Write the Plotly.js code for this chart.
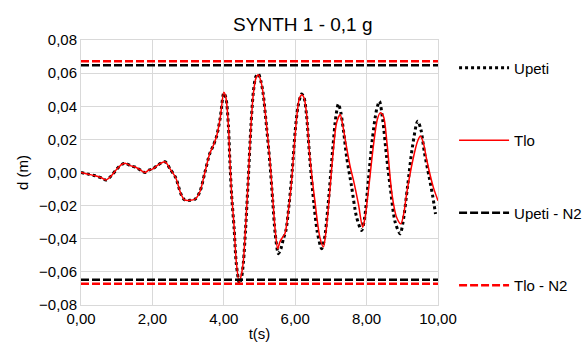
<!DOCTYPE html>
<html>
<head>
<meta charset="utf-8">
<script src="https://cdn.plot.ly/plotly-3.0.1.min.js"></script>
<style>html,body{margin:0;padding:0;background:#fff;}#chart{width:588px;height:349px;}</style>
</head>
<body>
<div id="chart"></div>
<script>
// Upeti (dotted black)
var upetiT = [0.00,0.20,0.40,0.60,0.70,0.85,1.00,1.15,1.25,1.40,1.55,1.70,1.80,1.90,2.00,2.15,2.35,2.50,2.65,2.80,2.90,3.05,3.20,3.33,3.47,3.60,3.70,3.80,3.90,4.00,4.06,4.13,4.17,4.22,4.29,4.35,4.44,4.50,4.55,4.61,4.69,4.76,4.83,4.90,4.97,5.04,5.10,5.20,5.29,5.37,5.44,5.53,5.60,5.67,5.74,5.83,5.92,6.00,6.08,6.18,6.25,6.32,6.41,6.52,6.62,6.74,6.82,6.92,7.05,7.14,7.21,7.28,7.36,7.44,7.58,7.72,7.86,7.94,8.05,8.16,8.28,8.36,8.45,8.56,8.66,8.80,8.94,9.02,9.15,9.28,9.43,9.52,9.62,9.75,9.85,9.93];
var upetiD = [0.000,-0.001,-0.002,-0.0035,-0.0045,-0.002,0.002,0.005,0.0055,0.004,0.003,0.001,0.000,0.0015,0.002,0.0045,0.0065,0.002,-0.003,-0.013,-0.0165,-0.0168,-0.016,-0.0116,0.000,0.011,0.016,0.022,0.033,0.048,0.045,0.028,0.007,-0.014,-0.034,-0.055,-0.067,-0.063,-0.054,-0.034,-0.002,0.028,0.049,0.058,0.0595,0.055,0.048,0.027,0.006,-0.017,-0.037,-0.049,-0.046,-0.040,-0.035,-0.019,0.002,0.025,0.040,0.0474,0.045,0.034,0.008,-0.018,-0.036,-0.046,-0.040,-0.020,0.014,0.034,0.0414,0.036,0.024,0.0095,-0.0086,-0.027,-0.035,-0.028,-0.0045,0.020,0.038,0.043,0.032,0.0095,-0.0086,-0.030,-0.037,-0.030,-0.008,0.015,0.031,0.026,0.012,-0.0025,-0.014,-0.025];
// Tlo (solid red)
var tloT = [0.00,0.20,0.40,0.60,0.70,0.85,1.00,1.15,1.25,1.40,1.55,1.70,1.80,1.90,2.00,2.15,2.35,2.50,2.65,2.80,2.90,3.05,3.20,3.33,3.47,3.60,3.70,3.80,3.90,4.00,4.06,4.13,4.17,4.22,4.29,4.35,4.43,4.49,4.55,4.61,4.69,4.76,4.83,4.90,4.97,5.04,5.10,5.20,5.29,5.37,5.44,5.51,5.57,5.62,5.71,5.81,5.90,5.97,6.05,6.12,6.19,6.25,6.32,6.41,6.55,6.69,6.79,6.86,6.93,7.07,7.16,7.26,7.32,7.40,7.54,7.63,7.77,7.89,7.95,8.05,8.19,8.30,8.38,8.47,8.57,8.71,8.84,8.96,9.04,9.12,9.30,9.43,9.51,9.60,9.68,9.87,10.00];
var tloD = [0.000,-0.001,-0.002,-0.0035,-0.0045,-0.002,0.002,0.005,0.0055,0.004,0.003,0.001,0.000,0.0015,0.002,0.0045,0.0065,0.002,-0.003,-0.013,-0.0165,-0.0168,-0.016,-0.0116,0.000,0.011,0.016,0.022,0.033,0.0484,0.045,0.028,0.008,-0.013,-0.033,-0.054,-0.066,-0.062,-0.053,-0.033,-0.002,0.028,0.048,0.057,0.059,0.055,0.048,0.028,0.008,-0.015,-0.035,-0.046,-0.042,-0.040,-0.037,-0.023,-0.005,0.015,0.035,0.045,0.047,0.045,0.035,0.0095,-0.017,-0.039,-0.045,-0.036,-0.021,0.014,0.030,0.035,0.030,0.020,0.0035,-0.0045,-0.019,-0.033,-0.028,-0.011,0.016,0.032,0.036,0.034,0.018,-0.013,-0.027,-0.031,-0.025,-0.013,0.008,0.019,0.022,0.017,0.008,-0.009,-0.017];
// N2 limits
var n2Range = [0, 10];
var upetiN2 = 0.0648;
var tloN2 = 0.0672;
var seriesNames = ['Upeti', 'Tlo', 'Upeti - N2', 'Tlo - N2'];

function limitTrace(v) {
  return {
    x: [n2Range[0], n2Range[1], null, n2Range[0], n2Range[1]],
    y: [v, v, null, -v, -v]
  };
}
var uN2 = limitTrace(upetiN2);
var tN2 = limitTrace(tloN2);

var data = [
  {x: upetiT, y: upetiD, name: seriesNames[0], mode: 'lines', legendgroup: 'a',
   line: {color: '#000000', width: 3, dash: '3px,3px', shape: 'spline', smoothing: 0.8}},
  {x: tloT, y: tloD, name: seriesNames[1], mode: 'lines', legendgroup: 'b',
   line: {color: '#ff0000', width: 1.5, shape: 'spline', smoothing: 0.8}},
  {x: uN2.x, y: uN2.y, name: seriesNames[2], mode: 'lines', legendgroup: 'c', connectgaps: false,
   line: {color: '#000000', width: 2.5, dash: '8px,3px'}},
  {x: tN2.x, y: tN2.y, name: seriesNames[3], mode: 'lines', legendgroup: 'd', connectgaps: false,
   line: {color: '#ff0000', width: 2.5, dash: '8px,3px'}}
];

var layout = {
  width: 588, height: 349,
  margin: {l: 81, r: 150, t: 40, b: 44, autoexpand: false},
  paper_bgcolor: '#ffffff', plot_bgcolor: '#ffffff',
  separators: ', ',
  font: {family: 'Liberation Sans, Arial, sans-serif', size: 15, color: '#000000'},
  title: {text: 'SYNTH 1 - 0,1 g', x: 0.515, xref: 'container', xanchor: 'center',
          y: 0.93, yref: 'container', yanchor: 'middle',
          font: {size: 19, color: '#000000'}},
  xaxis: {range: [0, 10], dtick: 2, tick0: 0, tickformat: '.2f',
          showgrid: true, gridcolor: '#d9d9d9', gridwidth: 1,
          showline: true, linecolor: '#d9d9d9', mirror: true, zeroline: false,
          ticks: '', ticklen: 0, fixedrange: true,
          title: {text: 't(s)', standoff: 2, font: {size: 15}}},
  yaxis: {range: [-0.08, 0.08], dtick: 0.02, tick0: 0, tickformat: '.2f',
          showgrid: true, gridcolor: '#d9d9d9', gridwidth: 1,
          showline: true, linecolor: '#d9d9d9', mirror: true, zeroline: false,
          ticks: '', ticklen: 0, fixedrange: true,
          title: {text: 'd (m)', standoff: 6, font: {size: 15}}},
  legend: {x: 1.045, xanchor: 'left', y: 0.957, yanchor: 'top',
           tracegroupgap: 50, itemwidth: 50, bgcolor: 'rgba(0,0,0,0)',
           font: {size: 15, color: '#000000'}},
  showlegend: true
};

Plotly.newPlot('chart', data, layout, {displayModeBar: false, staticPlot: true});
</script>
</body>
</html>
